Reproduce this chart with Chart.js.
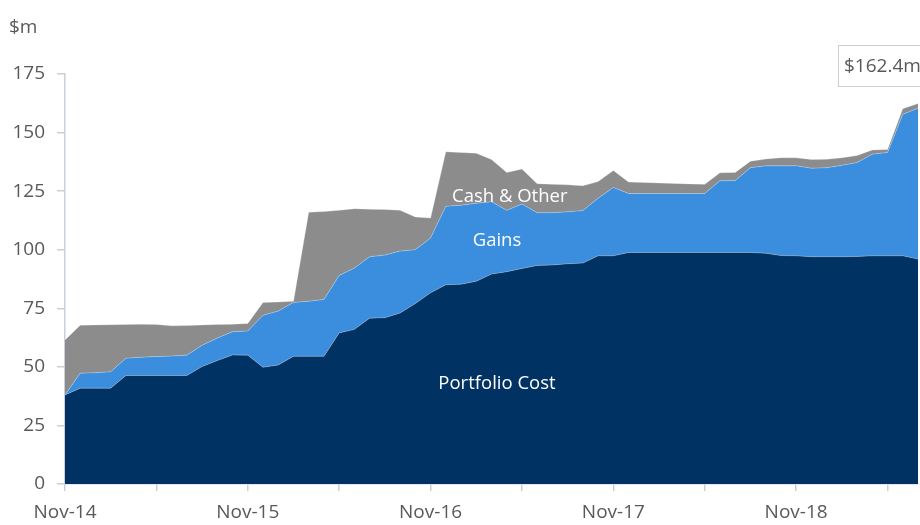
<!DOCTYPE html>
<html>
<head>
<meta charset="utf-8">
<script src="https://cdn.jsdelivr.net/npm/chart.js@4"></script>
<style>
  html, body { margin: 0; padding: 0; background: #ffffff; overflow: hidden; }
  #wrap { position: relative; width: 920px; height: 525px; }
</style>
</head>
<body>
<div id="wrap"><canvas id="c" width="920" height="525"></canvas></div>
<script>
// ---- DATA ($m) ----
const months = [
  "Nov-14","Dec-14","Jan-15","Feb-15","Mar-15","Apr-15","May-15","Jun-15","Jul-15","Aug-15","Sep-15","Oct-15",
  "Nov-15","Dec-15","Jan-16","Feb-16","Mar-16","Apr-16","May-16","Jun-16","Jul-16","Aug-16","Sep-16","Oct-16",
  "Nov-16","Dec-16","Jan-17","Feb-17","Mar-17","Apr-17","May-17","Jun-17","Jul-17","Aug-17","Sep-17","Oct-17",
  "Nov-17","Dec-17","Jan-18","Feb-18","Mar-18","Apr-18","May-18","Jun-18","Jul-18","Aug-18","Sep-18","Oct-18",
  "Nov-18","Dec-18","Jan-19","Feb-19","Mar-19","Apr-19","May-19","Jun-19","Jul-19"
];
const portfolioCost = [
  38.0, 40.9, 40.9, 40.9, 46.3, 46.3, 46.3, 46.3, 46.3, 50.1, 52.7, 55.1,
  55.0, 49.8, 50.8, 54.5, 54.5, 54.5, 64.5, 66.0, 70.8, 71.0, 73.0, 77.0,
  81.6, 85.0, 85.3, 86.5, 89.6, 90.6, 92.0, 93.3, 93.5, 94.0, 94.3, 97.4,
  97.4, 98.8, 98.8, 98.8, 98.8, 98.8, 98.8, 98.8, 98.8, 98.8, 98.5, 97.5,
  97.4, 97.0, 97.0, 97.0, 97.1, 97.4, 97.4, 97.4, 96.0
];
const gains = [
  0.0, 6.4, 6.6, 7.0, 7.4, 7.8, 8.1, 8.3, 8.7, 9.1, 9.6, 9.9,
  10.3, 22.2, 23.0, 23.0, 23.5, 24.3, 24.5, 26.2, 26.2, 26.7, 26.4, 23.0,
  23.4, 33.5, 33.7, 33.3, 30.9, 26.2, 27.5, 22.5, 22.3, 22.2, 22.4, 24.6,
  29.2, 25.2, 25.2, 25.2, 25.2, 25.2, 25.2, 30.6, 30.7, 36.2, 37.3, 38.3,
  38.4, 37.8, 38.0, 39.0, 40.1, 43.4, 44.1, 60.4, 64.4
];
const cashOther = [
  23.5, 20.5, 20.4, 20.1, 14.4, 14.1, 13.7, 12.9, 12.6, 8.7, 5.8, 3.2,
  3.2, 5.5, 3.9, 0.5, 38.0, 37.5, 27.8, 25.3, 20.3, 19.5, 17.4, 14.0,
  8.5, 23.3, 22.5, 21.4, 18.0, 16.2, 14.9, 12.4, 12.1, 11.5, 10.6, 7.1,
  7.2, 4.9, 4.7, 4.5, 4.3, 4.1, 3.9, 3.4, 3.5, 2.8, 2.9, 3.5,
  3.4, 3.7, 3.6, 3.2, 3.0, 1.8, 1.3, 2.4, 2.0
];
const yTicks = [0, 25, 50, 75, 100, 125, 150, 175];
const seriesNames = ["Portfolio Cost", "Gains", "Cash & Other"];
const unitLabel = "$m";

// ---- STYLE ----
const FONT = "'Open Sans', 'Noto Sans', sans-serif";
const C_COST = "#003263";
const C_GAINS = "#3b8ddd";
const C_CASH = "#8c8c8c";
const C_TEXT = "#595959";
const C_AXIS = "#c9d0dc";

const lastIdx = months.length - 1;
const totalLast = portfolioCost[lastIdx] + gains[lastIdx] + cashOther[lastIdx];

const overlay = {
  id: 'overlay',
  afterDraw(chart) {
    const ctx = chart.ctx;
    const xs = chart.scales.x, ys = chart.scales.y;
    ctx.save();
    // unit label
    ctx.fillStyle = C_TEXT;
    ctx.font = "19px " + FONT;
    ctx.textAlign = "left";
    ctx.textBaseline = "middle";
    ctx.fillText(unitLabel, 9, 28);
    // series labels inside areas
    ctx.fillStyle = "#ffffff";
    ctx.textAlign = "center";
    ctx.font = "18.5px " + FONT;
    ctx.fillText(seriesNames[0], xs.getPixelForValue(28.36), ys.getPixelForValue(43.0));
    ctx.fillText(seriesNames[1], xs.getPixelForValue(28.36), ys.getPixelForValue(103.7));
    ctx.fillText(seriesNames[2], xs.getPixelForValue(29.2), ys.getPixelForValue(122.8));
    // total value callout box
    const bx = xs.getPixelForValue(lastIdx) - 80, by = 45, bw = 110, bh = 41;
    ctx.fillStyle = "#ffffff";
    ctx.fillRect(bx, by, bw, bh);
    ctx.strokeStyle = "#cfcfcf";
    ctx.lineWidth = 1;
    ctx.strokeRect(bx + 0.5, by + 0.5, bw, bh);
    ctx.fillStyle = C_TEXT;
    ctx.textAlign = "left";
    ctx.font = "19px " + FONT;
    ctx.fillText("$" + totalLast.toFixed(1) + "m", bx + 6, by + bh / 2 + 1);
    ctx.restore();
  }
};

const edge = 'rgba(255,255,255,0.35)';
new Chart(document.getElementById('c'), {
  type: 'line',
  data: {
    labels: months,
    datasets: [
      { label: seriesNames[0], data: portfolioCost, backgroundColor: C_COST, borderColor: edge, borderWidth: 0.8, fill: 'origin', pointRadius: 0, tension: 0 },
      { label: seriesNames[1], data: gains, backgroundColor: C_GAINS, borderColor: edge, borderWidth: 0.8, fill: '-1', pointRadius: 0, tension: 0 },
      { label: seriesNames[2], data: cashOther, backgroundColor: C_CASH, borderColor: edge, borderWidth: 0.8, fill: '-1', pointRadius: 0, tension: 0 }
    ]
  },
  options: {
    responsive: false,
    animation: false,
    events: [],
    layout: { padding: { top: 74, right: 2, left: 0, bottom: 0 } },
    plugins: { legend: { display: false }, tooltip: { enabled: false } },
    scales: {
      x: {
        offset: false,
        border: { display: true, color: C_AXIS, width: 1.5 },
        grid: {
          drawOnChartArea: false, drawTicks: true, tickLength: 7,
          color: (c) => (c.index % 6 === 0 ? C_AXIS : 'rgba(0,0,0,0)'),
          lineWidth: 1.5
        },
        ticks: {
          autoSkip: false, maxRotation: 0, padding: 10,
          color: C_TEXT, font: { family: FONT, size: 19 },
          callback: function (v, i) { return i % 12 === 0 ? months[i] : ''; }
        },
        afterFit: (s) => { s.height = 41; s.paddingRight = 0; }
      },
      y: {
        stacked: true,
        min: 0, max: 175,
        border: { display: true, color: C_AXIS, width: 1.5 },
        grid: { drawOnChartArea: false, drawTicks: true, tickLength: 8, color: C_AXIS, lineWidth: 1.5 },
        afterBuildTicks: (s) => { s.ticks = yTicks.map(v => ({ value: v })); },
        ticks: { padding: 12, color: C_TEXT, font: { family: FONT, size: 19 } },
        afterFit: (s) => { s.width = 65; }
      }
    }
  },
  plugins: [overlay]
});
</script>
</body>
</html>
